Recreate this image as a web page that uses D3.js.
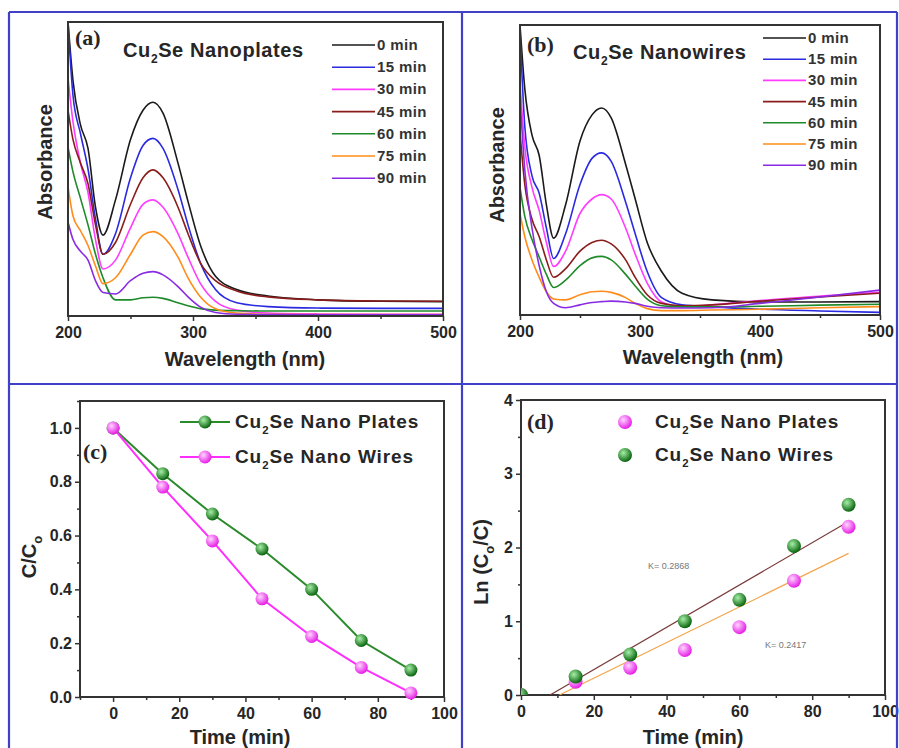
<!DOCTYPE html>
<html><head><meta charset="utf-8">
<script src="https://cdn.jsdelivr.net/npm/d3@7"></script>
<style>
body{margin:0;background:#fff}
text{font-family:"Liberation Sans",Arial,sans-serif;}
</style>
</head><body>
<svg id="fig" width="899" height="748"></svg>
<script>
// ---------- DATA ----------
const wavelengths = [200, 204, 210, 216, 222, 228, 238, 250, 260, 268, 276, 288, 296, 306, 318, 335, 360, 400, 450, 500];
const timeLabels = ["0 min", "15 min", "30 min", "45 min", "60 min", "75 min", "90 min"];
const seriesColors = ["#1a1a1a", "#2a2ae0", "#ff3cff", "#8b1c1c", "#1f8a2a", "#ff8c1a", "#8a2be2"];

// (a) Cu2Se nanoplates absorbance (arbitrary units)
const plates0  = [1.00, 0.80, 0.65, 0.57, 0.37, 0.275, 0.395, 0.60, 0.70, 0.727, 0.69, 0.52, 0.39, 0.24, 0.135, 0.09, 0.068, 0.055, 0.050, 0.049];
const plates15 = [1.00, 0.75, 0.62, 0.50, 0.33, 0.21, 0.28, 0.47, 0.58, 0.604, 0.57, 0.43, 0.31, 0.18, 0.09, 0.045, 0.032, 0.027, 0.026, 0.026];
const plates30 = [0.81, 0.66, 0.52, 0.42, 0.26, 0.16, 0.19, 0.30, 0.38, 0.395, 0.37, 0.28, 0.20, 0.11, 0.05, 0.02, 0.010, 0.007, 0.006, 0.006];
const plates45 = [0.70, 0.60, 0.52, 0.45, 0.31, 0.21, 0.25, 0.38, 0.47, 0.497, 0.47, 0.37, 0.28, 0.18, 0.12, 0.085, 0.065, 0.055, 0.051, 0.050];
const plates60 = [0.575, 0.49, 0.40, 0.31, 0.21, 0.13, 0.055, 0.055, 0.062, 0.064, 0.06, 0.045, 0.035, 0.025, 0.02, 0.018, 0.017, 0.017, 0.017, 0.017];
const plates75 = [0.44, 0.34, 0.29, 0.24, 0.17, 0.11, 0.13, 0.21, 0.275, 0.287, 0.27, 0.20, 0.13, 0.065, 0.025, 0.01, 0.006, 0.005, 0.005, 0.005];
const plates90 = [0.32, 0.26, 0.22, 0.19, 0.12, 0.08, 0.075, 0.12, 0.145, 0.151, 0.14, 0.10, 0.065, 0.03, 0.012, 0.006, 0.005, 0.004, 0.004, 0.004];

// (b) Cu2Se nanowires absorbance (arbitrary units)
const wires0  = [1.00, 0.78, 0.62, 0.55, 0.38, 0.265, 0.38, 0.60, 0.69, 0.714, 0.68, 0.52, 0.40, 0.25, 0.15, 0.075, 0.052, 0.045, 0.045, 0.046];
const wires15 = [0.98, 0.65, 0.48, 0.42, 0.30, 0.195, 0.28, 0.45, 0.54, 0.559, 0.53, 0.39, 0.28, 0.15, 0.06, 0.035, 0.028, 0.020, 0.014, 0.009];
const wires30 = [0.80, 0.58, 0.44, 0.36, 0.25, 0.167, 0.22, 0.35, 0.40, 0.415, 0.40, 0.30, 0.21, 0.11, 0.045, 0.03, 0.035, 0.050, 0.065, 0.078];
const wires45 = [0.63, 0.45, 0.33, 0.27, 0.19, 0.13, 0.16, 0.22, 0.25, 0.258, 0.245, 0.19, 0.13, 0.07, 0.04, 0.032, 0.035, 0.048, 0.062, 0.075];
const wires60 = [0.44, 0.34, 0.26, 0.20, 0.14, 0.095, 0.12, 0.17, 0.197, 0.202, 0.19, 0.14, 0.10, 0.055, 0.032, 0.028, 0.028, 0.030, 0.034, 0.037];
const wires75 = [0.35, 0.27, 0.19, 0.13, 0.08, 0.055, 0.052, 0.07, 0.08, 0.082, 0.078, 0.06, 0.04, 0.022, 0.015, 0.015, 0.017, 0.020, 0.025, 0.029];
const wires90 = [0.75, 0.50, 0.30, 0.17, 0.08, 0.04, 0.025, 0.035, 0.043, 0.046, 0.048, 0.045, 0.04, 0.03, 0.025, 0.024, 0.025, 0.040, 0.062, 0.086];

// (c) C/C0 vs time
const times = [0, 15, 30, 45, 60, 75, 90];
const platesRatio = [1.00, 0.83, 0.68, 0.55, 0.40, 0.21, 0.10];
const wiresRatio  = [1.00, 0.78, 0.58, 0.365, 0.225, 0.11, 0.015];

// (d) ln(C0/C) vs time
const platesLn = [0, 0.18, 0.37, 0.61, 0.92, 1.55, 2.28];
const wiresLn  = [0, 0.25, 0.55, 1.00, 1.29, 2.02, 2.58];
const fitWires  = [0.02868, -0.229];   // slope, intercept
const fitPlates = [0.02417, -0.255];
const kLabels = ["K= 0.2868", "K= 0.2417"];

const wlTicks = [200, 300, 400, 500];
const wlMinor = [250, 350, 450];
const timeTicks = [0, 20, 40, 60, 80, 100];
const timeMinor = [-10, 10, 30, 50, 70, 90];
const ratioTicks = [0, 0.2, 0.4, 0.6, 0.8, 1.0];
const ratioMinor = [0.1, 0.3, 0.5, 0.7, 0.9, 1.1];
const lnTicks = [0, 1, 2, 3, 4];
const lnMinor = [0.5, 1.5, 2.5, 3.5];
const legendNames = ["Se Nano Plates", "Se Nano Wires"];

// ---------- DRAW ----------
const svg = d3.select("#fig");
svg.append("rect").attr("width", 899).attr("height", 748).attr("fill", "#fff");
const defs = svg.append("defs");
function grad(id, c0, c1) {
  const g = defs.append("radialGradient").attr("id", id).attr("cx", "38%").attr("cy", "35%").attr("r", "65%");
  g.append("stop").attr("offset", "0%").attr("stop-color", c0);
  g.append("stop").attr("offset", "100%").attr("stop-color", c1);
}
grad("gG", "#a6efa6", "#0a640f");
grad("gM", "#ffd6ff", "#e61ee6");

const TXT = "#262626";

function styleAxis(g, fs) {
  g.select(".domain").remove();
  g.selectAll(".tick line").attr("stroke", "#333").attr("stroke-width", 1.5);
  g.selectAll(".tick text").attr("fill", TXT).style("font-size", fs + "px").style("font-weight", "bold")
    .style("font-family", '"Liberation Sans",Arial,sans-serif');
}
function xAxis(x, y0, majors, minors, fmt) {
  const g = svg.append("g").attr("transform", `translate(0,${y0})`)
    .call(d3.axisBottom(x).tickValues(majors).tickSize(5).tickPadding(6).tickFormat(fmt));
  styleAxis(g, 16);
  const m = svg.append("g").attr("transform", `translate(0,${y0})`)
    .call(d3.axisBottom(x).tickValues(minors.filter(v => v >= x.domain()[0])).tickSize(3).tickFormat(""));
  styleAxis(m, 16);
}
function yAxis(y, x0, majors, minors, fmt) {
  const g = svg.append("g").attr("transform", `translate(${x0},0)`)
    .call(d3.axisLeft(y).tickValues(majors).tickSize(5).tickPadding(3).tickFormat(fmt));
  styleAxis(g, 16);
  const m = svg.append("g").attr("transform", `translate(${x0},0)`)
    .call(d3.axisLeft(y).tickValues(minors).tickSize(3).tickFormat(""));
  styleAxis(m, 16);
}
function frame(x, y) {
  svg.append("rect").attr("x", x.range()[0]).attr("y", y.range()[1])
    .attr("width", x.range()[1] - x.range()[0]).attr("height", y.range()[0] - y.range()[1])
    .attr("fill", "none").attr("stroke", "#333").attr("stroke-width", 2);
}
function cuSe(sel, rest, fs) {
  sel.append("tspan").text("Cu");
  sel.append("tspan").text("2").style("font-size", (fs * 0.6) + "px").attr("dy", fs * 0.3);
  sel.append("tspan").text(rest).attr("dy", -fs * 0.3);
}
function panelLabel(txt, x, y) {
  svg.append("text").attr("x", x).attr("y", y).text(txt)
    .style("font-family", '"Liberation Serif","Times New Roman",serif').style("font-weight", "bold")
    .style("font-size", "22px").attr("fill", TXT);
}
function axisTitle(x, y, rot, build, fs) {
  const t = svg.append("text").attr("transform", `translate(${x},${y}) rotate(${rot})`)
    .attr("text-anchor", "middle").style("font-weight", "bold").style("font-size", fs + "px").attr("fill", TXT);
  build(t);
  return t;
}

// ---- spectra panels ----
function spectra(id, xr, yr, series, title, label, labelPos, titlePos, leg, absPos, wavePos) {
  const x = d3.scaleLinear().domain([200, 500]).range(xr);
  const y = d3.scaleLinear().domain([0, 1]).range(yr);
  defs.append("clipPath").attr("id", id).append("rect")
    .attr("x", xr[0]).attr("y", yr[1]).attr("width", xr[1] - xr[0]).attr("height", yr[0] - yr[1]);
  const line = d3.line().x((d, i) => x(wavelengths[i])).y(d => y(d)).curve(d3.curveMonotoneX);
  const g = svg.append("g").attr("clip-path", `url(#${id})`);
  series.forEach((s, i) => {
    g.append("path").attr("d", line(s)).attr("fill", "none")
      .attr("stroke", seriesColors[i]).attr("stroke-width", 1.6);
  });
  frame(x, y);
  xAxis(x, yr[0], wlTicks, wlMinor, d3.format("d"));
  panelLabel(label, labelPos[0], labelPos[1]);
  const t = svg.append("text").attr("x", titlePos[0]).attr("y", titlePos[1])
    .style("font-weight", "bold").style("font-size", "20px").style("letter-spacing", "0.6px").attr("fill", TXT);
  cuSe(t, title, 20);
  timeLabels.forEach((lab, i) => {
    const yy = leg[1] + i * leg[2];
    svg.append("line").attr("x1", leg[0]).attr("x2", leg[0] + 43).attr("y1", yy).attr("y2", yy)
      .attr("stroke", seriesColors[i]).attr("stroke-width", 1.6);
    svg.append("text").attr("x", leg[0] + 45).attr("y", yy + 5).text(lab)
      .style("font-weight", "bold").style("font-size", "15px").style("letter-spacing", "0.4px").attr("fill", "#333");
  });
  axisTitle(absPos[0], absPos[1], -90, t => t.text("Absorbance"), 20);
  axisTitle(wavePos[0], wavePos[1], 0, t => t.text("Wavelength (nm)"), 20);
}
spectra("clipA", [68, 443], [316, 22],
  [plates0, plates15, plates30, plates45, plates60, plates75, plates90],
  "Se Nanoplates", "(a)", [75, 45], [123, 57], [332, 45, 22.2], [52, 162], [245, 366]);
spectra("clipB", [520, 880], [315, 25],
  [wires0, wires15, wires30, wires45, wires60, wires75, wires90],
  "Se Nanowires", "(b)", [527, 52], [573, 59], [763, 38, 21.2], [504, 165], [703, 364]);

// ---- panel (c) ----
{
  const x = d3.scaleLinear().domain([-10, 100]).range([80, 444]);
  const y = d3.scaleLinear().domain([0, 1.1]).range([697, 401]);
  frame(x, y);
  xAxis(x, 697, timeTicks, timeMinor, d3.format("d"));
  yAxis(y, 80, ratioTicks, ratioMinor, d3.format(".1f"));
  const line = d3.line().x((d, i) => x(times[i])).y(d => y(d));
  [[platesRatio, "#2b8a2b", "gG"], [wiresRatio, "#ff2eff", "gM"]].forEach(([s, c, gid]) => {
    svg.append("path").attr("d", line(s)).attr("fill", "none").attr("stroke", c).attr("stroke-width", 2);
    svg.selectAll(null).data(s).enter().append("circle")
      .attr("cx", (d, i) => x(times[i])).attr("cy", d => y(d)).attr("r", 6.5)
      .attr("fill", `url(#${gid})`);
  });
  panelLabel("(c)", 83, 459);
  [["#2b8a2b", "gG"], ["#ff2eff", "gM"]].forEach(([c, gid], i) => {
    const yy = 422 + i * 35;
    svg.append("line").attr("x1", 180).attr("x2", 230).attr("y1", yy).attr("y2", yy).attr("stroke", c).attr("stroke-width", 2);
    svg.append("circle").attr("cx", 205).attr("cy", yy).attr("r", 6.5).attr("fill", `url(#${gid})`);
    const t = svg.append("text").attr("x", 235).attr("y", yy + 6).style("font-weight", "bold")
      .style("font-size", "19px").style("letter-spacing", "0.9px").attr("fill", TXT);
    cuSe(t, legendNames[i], 19);
  });
  axisTitle(36, 557, -90, t => {
    t.append("tspan").text("C/C");
    t.append("tspan").text("o").style("font-size", "13px").attr("dy", 6);
  }, 20);
  axisTitle(240, 744, 0, t => t.text("Time (min)"), 20);
}

// ---- panel (d) ----
{
  const x = d3.scaleLinear().domain([0, 100]).range([521, 885]);
  const y = d3.scaleLinear().domain([0, 4]).range([695, 400]);
  defs.append("clipPath").attr("id", "clipD").append("rect").attr("x", 521).attr("y", 400).attr("width", 364).attr("height", 295);
  frame(x, y);
  xAxis(x, 695, timeTicks, [10, 30, 50, 70, 90], d3.format("d"));
  yAxis(y, 521, lnTicks, lnMinor, d3.format("d"));
  const gc = svg.append("g").attr("clip-path", "url(#clipD)");
  [[fitWires, "#7a3a3a"], [fitPlates, "#f2a64e"]].forEach(([f, c]) => {
    const x0 = -f[1] / f[0];
    gc.append("line").attr("x1", x(x0)).attr("y1", y(0)).attr("x2", x(90)).attr("y2", y(f[0] * 90 + f[1]))
      .attr("stroke", c).attr("stroke-width", 1.2);
  });
  [[platesLn, "gM"], [wiresLn, "gG"]].forEach(([s, gid]) => {
    gc.selectAll(null).data(s).enter().append("circle")
      .attr("cx", (d, i) => x(times[i])).attr("cy", d => y(d)).attr("r", 7)
      .attr("fill", `url(#${gid})`);
  });
  svg.append("text").attr("x", 648).attr("y", 569).text(kLabels[0]).style("font-size", "9px").attr("fill", "#777");
  svg.append("text").attr("x", 765).attr("y", 648).text(kLabels[1]).style("font-size", "9px").attr("fill", "#777");
  panelLabel("(d)", 527, 429);
  [["gM"], ["gG"]].forEach(([gid], i) => {
    const yy = 422 + i * 33;
    svg.append("circle").attr("cx", 625).attr("cy", yy).attr("r", 7).attr("fill", `url(#${gid})`);
    const t = svg.append("text").attr("x", 655).attr("y", yy + 6).style("font-weight", "bold")
      .style("font-size", "19px").style("letter-spacing", "0.9px").attr("fill", TXT);
    cuSe(t, legendNames[i], 19);
  });
  axisTitle(488, 562, -90, t => {
    t.append("tspan").text("Ln (C");
    t.append("tspan").text("o").style("font-size", "13px").attr("dy", 6);
    t.append("tspan").text("/C)").attr("dy", -6);
  }, 20);
  axisTitle(693, 744, 0, t => t.text("Time (min)"), 20);
}

// ---- blue panel borders ----
const B = "#4141c8";
[[9, 12, 897, 12], [9, 12, 9, 748], [897, 12, 897, 748], [462, 12, 462, 748], [9, 384, 897, 384]].forEach(l => {
  svg.append("line").attr("x1", l[0]).attr("y1", l[1]).attr("x2", l[2]).attr("y2", l[3])
    .attr("stroke", B).attr("stroke-width", 2.2);
});
</script>
</body></html>
